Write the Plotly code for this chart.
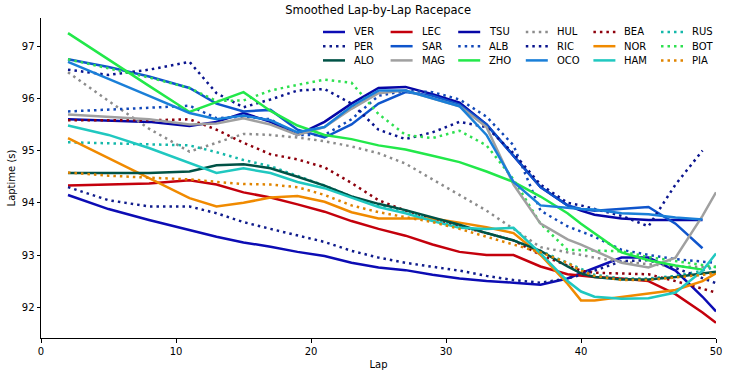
import plotly.graph_objects as go

LAPS = [2, 5, 8, 11, 13, 15, 17, 19, 21, 23, 25, 27, 29, 31, 33, 35, 37, 39, 40, 41, 43, 45, 47, 49, 50]

VER = [94.15, 93.88, 93.67, 93.47, 93.35, 93.24, 93.16, 93.06, 92.98, 92.85, 92.76, 92.71, 92.62, 92.55, 92.5, 92.47, 92.43, 92.55, 92.65, 92.75, 92.95, 92.95, 92.7, 92.2, 91.92]
PER = [94.3, 94.05, 93.93, 93.93, 93.8, 93.63, 93.5, 93.37, 93.25, 93.08, 92.95, 92.85, 92.78, 92.7, 92.6, 92.52, 92.47, 92.55, 92.62, 92.7, 92.88, 92.9, 92.75, 92.55, 92.46]
ALO = [94.57, 94.57, 94.57, 94.6, 94.72, 94.74, 94.66, 94.5, 94.33, 94.12, 93.98, 93.86, 93.72, 93.58, 93.42, 93.28, 93.08, 92.78, 92.65, 92.58, 92.53, 92.53, 92.58, 92.65, 92.68]
LEC = [94.33, 94.35, 94.37, 94.43, 94.35, 94.2, 94.1, 93.97, 93.83, 93.65, 93.5, 93.37, 93.2, 93.06, 93.0, 93.0, 92.78, 92.63, 92.6, 92.58, 92.55, 92.5, 92.25, 91.9, 91.7]
SAR = [96.75, 96.6, 96.42, 96.2, 95.9, 95.75, 95.78, 95.4, 95.25, 95.5, 95.9, 96.12, 96.05, 95.88, 95.5, 94.9, 94.3, 93.95, 93.88, 93.85, 93.88, 93.92, 93.6, 93.13, None]
MAG = [95.69, 95.65, 95.6, 95.5, 95.52, 95.62, 95.5, 95.3, 95.45, 95.8, 96.1, 96.15, 96.0, 95.85, 95.45, 94.35, 93.6, 93.3, 93.2, 93.08, 92.85, 92.76, 92.95, 93.75, 94.2]
TSU = [95.6, 95.58, 95.55, 95.47, 95.55, 95.72, 95.55, 95.3, 95.55, 95.9, 96.2, 96.22, 96.08, 95.92, 95.5, 94.9, 94.3, 93.95, 93.85, 93.77, 93.7, 93.67, 93.67, 93.67, None]
ALB = [95.75, 95.78, 95.82, 95.86, 95.62, 95.65, 95.6, 95.3, 95.3, 95.6, 96.05, 96.15, 96.12, 95.98, 95.65, 95.1, 93.85, 93.55, 93.45, 93.35, 93.1, 93.0, 92.92, 92.87, 92.85]
ZHO = [97.25, 96.74, 96.24, 95.74, 95.93, 96.12, 95.76, 95.48, 95.3, 95.22, 95.1, 95.02, 94.9, 94.78, 94.6, 94.4, 94.12, 93.8, 93.6, 93.42, 93.05, 92.9, 92.8, 92.72, None]
HUL = [96.5, 95.95, 95.42, 94.98, 95.15, 95.32, 95.3, 95.25, 95.18, 95.08, 94.95, 94.75, 94.45, 94.15, 93.85, 93.5, 93.15, 93.05, 93.0, 92.95, 92.87, 92.82, 92.78, 92.77, 92.77]
RIC = [96.55, 96.45, 96.55, 96.7, 96.1, 95.83, 95.98, 96.15, 96.18, 95.9, 95.4, 95.22, 95.35, 95.55, 95.45, 94.95, 94.35, 94.0, 93.95, 93.88, 93.75, 93.55, 94.35, 95.0, None]
OCO = [96.7, 96.38, 96.05, 95.72, 95.6, 95.67, 95.58, 95.35, 95.45, 95.85, 96.15, 96.15, 96.0, 95.85, 95.3, 94.4, 93.95, 93.9, 93.88, 93.87, 93.8, 93.78, 93.72, 93.68, None]
BEA = [95.58, 95.58, 95.58, 95.6, 95.4, 95.15, 94.93, 94.83, 94.68, 94.38, 94.05, 93.85, 93.7, 93.55, 93.42, 93.28, 93.0, 92.8, 92.7, 92.66, 92.65, 92.63, 92.5, 92.35, 92.28]
NOR = [95.24, 94.86, 94.48, 94.09, 93.93, 94.0, 94.1, 94.13, 94.02, 93.82, 93.7, 93.7, 93.7, 93.62, 93.53, 93.42, 93.0, 92.45, 92.13, 92.13, 92.2, 92.27, 92.33, 92.5, 92.65]
HAM = [95.48, 95.3, 95.05, 94.76, 94.57, 94.66, 94.57, 94.4, 94.28, 94.1, 93.92, 93.8, 93.65, 93.52, 93.5, 93.52, 93.03, 92.5, 92.3, 92.2, 92.16, 92.17, 92.28, 92.7, 93.03]
RUS = [95.16, 95.14, 95.12, 95.1, 94.97, 94.82, 94.7, 94.52, 94.33, 94.12, 93.95, 93.82, 93.68, 93.55, 93.42, 93.28, 93.08, 92.85, 92.72, 92.62, 92.55, 92.55, 92.6, 92.7, 92.78]
BOT = [96.75, 96.58, 96.4, 96.2, 95.95, 95.96, 96.15, 96.26, 96.36, 96.3, 95.7, 95.3, 95.24, 95.38, 95.1, 94.45, 93.6, 93.1, 93.09, 93.09, 93.07, 92.96, 92.88, 92.8, 92.77]
PIA = [94.58, 94.52, 94.48, 94.45, 94.4, 94.36, 94.35, 94.3, 94.15, 93.95, 93.82, 93.73, 93.63, 93.5, 93.35, 93.2, 93.05, 92.85, 92.7, 92.6, 92.52, 92.52, 92.57, 92.62, 92.66]

X_TICKS = [0, 10, 20, 30, 40, 50]
Y_TICKS = [92, 93, 94, 95, 96, 97]

# (name, values, colour, dotted) in row-major legend order
SERIES = [
    ("VER", VER, "#0c0cb4", False), ("LEC", LEC, "#c4000c", False), ("TSU", TSU, "#0606a6", False),
    ("HUL", HUL, "#8c8c8c", True), ("BEA", BEA, "#8e000c", True), ("RUS", RUS, "#14b8aa", True),
    ("PER", PER, "#101c8c", True), ("SAR", SAR, "#0f55cc", False), ("ALB", ALB, "#1248b8", True),
    ("RIC", RIC, "#0a148e", True), ("NOR", NOR, "#f08a00", False), ("BOT", BOT, "#2ee050", True),
    ("ALO", ALO, "#005246", False), ("MAG", MAG, "#a0a0a0", False), ("ZHO", ZHO, "#22e84a", False),
    ("OCO", OCO, "#1a7fd8", False), ("HAM", HAM, "#20c8c0", False), ("PIA", PIA, "#e08400", True),
]

DOT = "2.5px,4px"
FONT = "DejaVu Sans"

fig = go.Figure()
for name, vals, col, dotted in SERIES:
    fig.add_trace(go.Scatter(
        x=LAPS, y=vals, mode="lines", name=name, showlegend=False,
        line=dict(color=col, width=2.5, dash=DOT if dotted else "solid"),
    ))

# Legend drawn as a 6x3 grid (pixel geometry of the plot area: x 41..716, y 18..338)
L, R, T, B = 41, 716, 18, 338
def px_x(p):
    return (p - L) / (R - L)
def px_y(p):
    return (B - p) / (B - T)

shapes, annots = [], []
for i, (name, vals, col, dotted) in enumerate(SERIES):
    r, c = divmod(i, 6)
    x0 = 323 + 67.6 * c
    yy = 32 + 14.2 * r
    shapes.append(dict(type="line", xref="paper", yref="paper",
                       x0=px_x(x0), x1=px_x(x0 + 22), y0=px_y(yy), y1=px_y(yy),
                       line=dict(color=col, width=2.5, dash=DOT if dotted else "solid")))
    annots.append(dict(text=name, xref="paper", yref="paper", x=px_x(x0 + 29), y=px_y(yy),
                       xanchor="left", yanchor="middle", showarrow=False,
                       font=dict(family=FONT, size=10, color="black")))

fig.update_layout(
    width=730, height=377,
    margin=dict(l=L, r=730 - R, t=T, b=377 - B, autoexpand=False),
    paper_bgcolor="white", plot_bgcolor="white",
    font=dict(family=FONT, size=10, color="black"),
    title=dict(text="Smoothed Lap-by-Lap Racepace", x=0.518, xanchor="center", y=1 - 9.5 / 377, yanchor="middle",
               font=dict(size=11.5, family=FONT, color="black")),
    showlegend=False,
    shapes=shapes, annotations=annots,
)
fig.update_xaxes(range=[0, 50], tickvals=X_TICKS, showgrid=False, zeroline=False, automargin=False,
                 showline=True, linecolor="black", linewidth=1, mirror=False,
                 ticks="outside", ticklen=3.5, tickcolor="black",
                 title=dict(text="Lap", font=dict(size=10, family=FONT), standoff=5))
fig.update_yaxes(range=[91.41, 97.54], tickvals=Y_TICKS, showgrid=False, zeroline=False, automargin=False,
                 showline=True, linecolor="black", linewidth=1, mirror=False,
                 ticks="outside", ticklen=3.5, tickcolor="black",
                 title=dict(text="Laptime (s)", font=dict(size=10, family=FONT), standoff=4))

fig.write_html("out.html", config={"displayModeBar": False},
               post_script="document.body.style.margin='0';")
